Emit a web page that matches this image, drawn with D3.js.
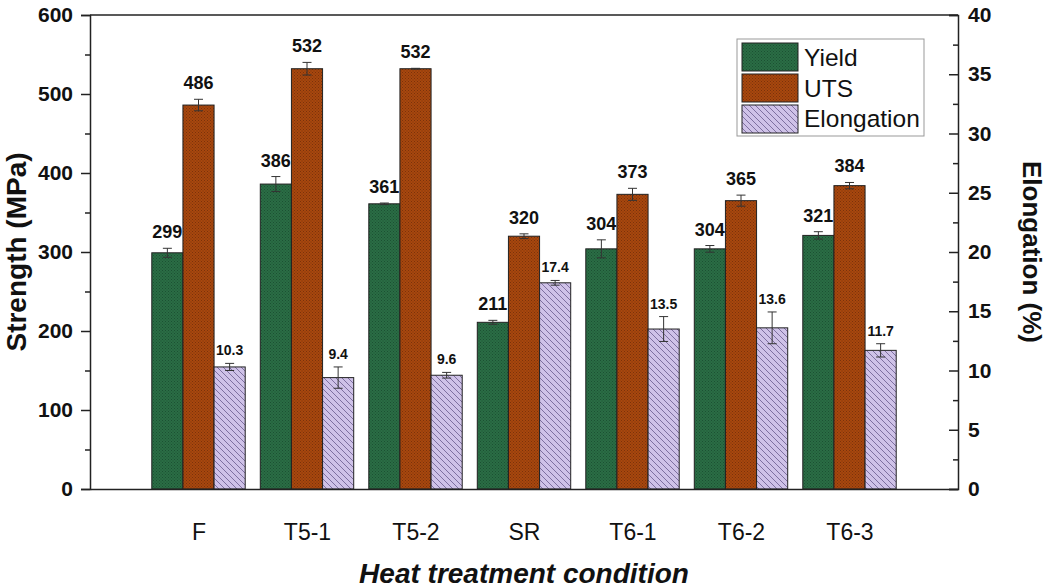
<!DOCTYPE html>
<html>
<head>
<meta charset="utf-8">
<script src="https://cdn.jsdelivr.net/npm/d3@7/dist/d3.min.js"></script>
<style>
  html, body { margin: 0; padding: 0; background: #fff; }
  svg { display: block; font-family: Arial, "Liberation Sans", sans-serif; }
</style>
</head>
<body>
<svg id="chart" width="1048" height="588"></svg>
<script>
// Heat treatment conditions
const categories = ["F", "T5-1", "T5-2", "SR", "T6-1", "T6-2", "T6-3"];

// Yield strength (MPa) and its scatter
const yieldValues = [299, 386, 361, 211, 304, 304, 321];
const yieldErrors = [5.7, 9.5, 1, 2.5, 11.4, 4.2, 4.7];

// Ultimate tensile strength (MPa) and its scatter
const utsValues = [486, 532, 532, 320, 373, 365, 384];
const utsErrors = [7.3, 8, 0.5, 3, 7.6, 7, 4];

// Elongation (%) and its scatter
const elongValues = [10.3, 9.4, 9.6, 17.4, 13.5, 13.6, 11.7];
const elongErrors = [0.3, 0.9, 0.24, 0.2, 1.05, 1.34, 0.56];

// Axis ticks
const strengthTicks = [0, 100, 200, 300, 400, 500, 600];
const strengthMinor = [50, 150, 250, 350, 450, 550];
const elongTicks = [0, 5, 10, 15, 20, 25, 30, 35, 40];
const elongMinor = [2.5, 7.5, 12.5, 17.5, 22.5, 27.5, 32.5, 37.5];

const seriesNames = ["Yield", "UTS", "Elongation"];

const svg = d3.select("#chart");
const plotL = 90, plotR = 958, plotT = 15, plotB = 489;
const FONT = "Arial, 'Liberation Sans', sans-serif";

const x = d3.scalePoint().domain(categories).range([plotL, plotR]).padding(1);
const step = x.step();
const barW = step * 0.287;

const yS = d3.scaleLinear().domain([0, 600]).range([plotB, plotT]);
const yE = d3.scaleLinear().domain([0, 40]).range([plotB, plotT]);

// Fill patterns
const defs = svg.append("defs");
function dotPattern(id, base, dot) {
  const p = defs.append("pattern").attr("id", id)
    .attr("patternUnits", "userSpaceOnUse").attr("width", 3).attr("height", 3);
  p.append("rect").attr("width", 3).attr("height", 3).attr("fill", base);
  p.append("rect").attr("x", 0).attr("y", 0).attr("width", 1).attr("height", 1).attr("fill", dot);
  p.append("rect").attr("x", 1.5).attr("y", 1.5).attr("width", 1).attr("height", 1).attr("fill", dot);
}
dotPattern("pYield", "#2a6d45", "#1c5032");
dotPattern("pUts", "#a8470e", "#7a320a");
const hp = defs.append("pattern").attr("id", "pElong")
  .attr("patternUnits", "userSpaceOnUse").attr("width", 6).attr("height", 6);
hp.append("rect").attr("width", 6).attr("height", 6).attr("fill", "#cfc2e8");
hp.append("path").attr("d", "M-1,-1L7,7M-1,5L1,7M5,-1L7,1")
  .attr("stroke", "#7e70a0").attr("stroke-width", 1);

const fills = ["url(#pYield)", "url(#pUts)", "url(#pElong)"];

const series = [
  { values: yieldValues, errors: yieldErrors, y: yS, fmt: d => d3.format("d")(d), fs: 18, off: 10 },
  { values: utsValues, errors: utsErrors, y: yS, fmt: d => d3.format("d")(d), fs: 18, off: 10 },
  { values: elongValues, errors: elongErrors, y: yE, fmt: d => d3.format(".1f")(d), fs: 14, off: 8 }
];

const plot = svg.append("g");

series.forEach((s, si) => {
  const cx = i => x(categories[i]) + (si - 1) * barW;
  const g = plot.append("g");
  g.selectAll("rect").data(s.values).join("rect")
    .attr("x", (d, i) => cx(i) - barW / 2)
    .attr("y", d => s.y(d))
    .attr("width", barW)
    .attr("height", d => plotB - s.y(d))
    .attr("fill", fills[si])
    .attr("stroke", "#222")
    .attr("stroke-width", 1);

  // error bars
  const eg = g.append("g").attr("stroke", "#333").attr("stroke-width", 1);
  s.values.forEach((v, i) => {
    const c = cx(i);
    const y1 = s.y(v + s.errors[i]), y2 = s.y(v - s.errors[i]);
    eg.append("line").attr("x1", c).attr("x2", c).attr("y1", y1).attr("y2", y2);
    eg.append("line").attr("x1", c - 4.5).attr("x2", c + 4.5).attr("y1", y1).attr("y2", y1);
    eg.append("line").attr("x1", c - 4.5).attr("x2", c + 4.5).attr("y1", y2).attr("y2", y2);
  });

  // value labels
  g.selectAll("text").data(s.values).join("text")
    .attr("x", (d, i) => cx(i))
    .attr("y", (d, i) => s.y(d + s.errors[i]) - s.off)
    .attr("text-anchor", "middle")
    .attr("font-size", s.fs)
    .attr("font-weight", "bold")
    .attr("fill", "#111")
    .text(d => s.fmt(d));
});

// Frame: top line
svg.append("line").attr("x1", plotL).attr("x2", plotR).attr("y1", plotT).attr("y2", plotT)
  .attr("stroke", "#222").attr("stroke-width", 1.5);

// Left axis
const axL = svg.append("g").attr("transform", `translate(${plotL},0)`)
  .call(d3.axisLeft(yS).tickValues(strengthTicks).tickSize(9).tickPadding(8).tickFormat(d3.format("d")));
svg.append("g").attr("transform", `translate(${plotL},0)`)
  .call(d3.axisLeft(yS).tickValues(strengthMinor).tickSize(5).tickFormat(""))
  .call(g => g.select(".domain").remove());

// Right axis (ticks point into the plot)
const axR = svg.append("g").attr("transform", `translate(${plotR},0)`)
  .call(d3.axisRight(yE).tickValues(elongTicks).tickSize(-9).tickPadding(10).tickFormat(d3.format("d")));
svg.append("g").attr("transform", `translate(${plotR},0)`)
  .call(d3.axisRight(yE).tickValues(elongMinor).tickSize(-5).tickFormat(""))
  .call(g => g.select(".domain").remove());

// Bottom axis
const axB = svg.append("g").attr("transform", `translate(0,${plotB})`)
  .call(d3.axisBottom(x).tickSize(0).tickPadding(35));

svg.selectAll(".domain").attr("stroke", "#222").attr("stroke-width", 1.5);
svg.selectAll(".tick line").attr("stroke", "#222").attr("stroke-width", 1.5);
[axL, axR].forEach(a => a.selectAll(".tick text")
  .attr("font-size", 21).attr("font-weight", "bold").attr("fill", "#111")
  .attr("font-family", FONT));
axB.selectAll(".tick text").attr("font-size", 23).attr("fill", "#111")
  .attr("font-family", FONT);

// Axis titles
svg.append("text").attr("transform", `translate(26,${(plotT + plotB) / 2}) rotate(-90)`)
  .attr("text-anchor", "middle").attr("font-size", 28).attr("font-weight", "bold").attr("fill", "#111")
  .text("Strength (MPa)");
svg.append("text").attr("transform", `translate(1023,${(plotT + plotB) / 2}) rotate(90)`)
  .attr("text-anchor", "middle").attr("font-size", 26).attr("font-weight", "bold").attr("fill", "#111")
  .text("Elongation (%)");
svg.append("text").attr("x", (plotL + plotR) / 2).attr("y", 583)
  .attr("text-anchor", "middle").attr("font-size", 28).attr("font-weight", "bold")
  .attr("font-style", "italic").attr("fill", "#111")
  .text("Heat treatment condition");

// Legend
const lg = svg.append("g").attr("transform", "translate(737,39)");
lg.append("rect").attr("width", 187).attr("height", 97)
  .attr("fill", "#fff").attr("stroke", "#999").attr("stroke-width", 1);
seriesNames.forEach((n, i) => {
  lg.append("rect").attr("x", 5).attr("y", 4 + i * 31).attr("width", 56).attr("height", 28)
    .attr("fill", fills[i]).attr("stroke", "#222").attr("stroke-width", 1);
  lg.append("text").attr("x", 67).attr("y", 27 + i * 30.5)
    .attr("font-size", 24.5).attr("fill", "#111").text(n);
});
</script>
</body>
</html>
